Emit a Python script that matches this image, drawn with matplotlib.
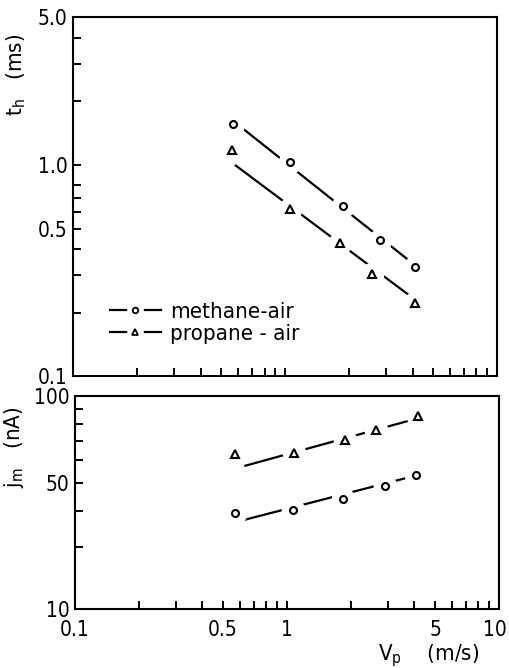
import matplotlib
matplotlib.use("Agg")
import matplotlib.pyplot as plt
import matplotlib.transforms as mtransforms
from matplotlib.lines import Line2D
from matplotlib.ticker import FixedLocator, FixedFormatter, NullFormatter

plt.rcParams['font.family'] = ['DejaVu Sans']
plt.rcParams['font.stretch'] = 'condensed'
plt.rcParams['mathtext.fontset'] = 'custom'
plt.rcParams['mathtext.rm'] = 'DejaVu Sans:stretch=condensed'

# upper panel: t_h (ms) against V_p (m/s)
vp_th_meth = [0.57, 1.06, 1.87, 2.81, 4.11]
th_meth = [1.56, 1.03, 0.64, 0.44, 0.33]
vp_th_prop = [0.56, 1.05, 1.81, 2.57, 4.11]
th_prop = [1.18, 0.62, 0.425, 0.306, 0.223]
# drawn trend lines, start and end
line_th_meth_x = [0.625, 3.82]
line_th_meth_y = [1.50, 0.355]
line_th_prop_x = [0.58, 4.0]
line_th_prop_y = [1.0, 0.235]

# lower panel: j_m (nA) against V_p (m/s)
vp_jm_meth = [0.57, 1.07, 1.84, 2.89, 4.07]
jm_meth = [39.4, 40.3, 44.1, 49.0, 53.3]
vp_jm_prop = [0.57, 1.08, 1.89, 2.62, 4.15]
jm_prop = [63.0, 63.4, 70.5, 76.3, 85.3]
line_jm_meth_x = [0.63, 3.86]
line_jm_meth_y = [37.3, 52.6]
line_jm_prop_x = [0.63, 3.86]
line_jm_prop_y = [57.3, 82.6]

x_ticks = [0.2, 0.3, 0.4, 0.5, 0.6, 0.7, 0.8, 0.9, 1, 2, 3, 4, 5, 6, 7, 8, 9]
x_labels = {0.1: "0.1", 0.5: "0.5", 1: "1", 5: "5", 10: "10"}
th_ticks = [0.1, 0.2, 0.3, 0.4, 0.5, 0.6, 0.7, 0.8, 1.0, 2, 3, 4, 5.0]
th_labels = {0.1: "0.1", 0.5: "0.5", 1.0: "1.0", 5.0: "5.0"}
jm_bottom = 18.4
jm_ticks = [jm_bottom, 30, 40, 50, 60, 70, 80, 90, 100]
jm_labels = {jm_bottom: "10", 50: "50", 100: "100"}

FS = 15

fig = plt.figure(figsize=(5.09, 6.68), dpi=100)
ax1 = fig.add_axes([0.144, 0.437, 0.832, 0.537])
ax2 = fig.add_axes([0.147, 0.089, 0.833, 0.318])


def series(ax, x, y, lx, ly, marker, ms):
    ax.plot(lx, ly, color='black', lw=1.6, zorder=1, solid_capstyle='butt')
    # white patch behind each marker breaks the line, as in the drawing
    ax.plot(x, y, ls='none', marker='o', ms=17, mfc='white', mec='none', zorder=2)
    ax.plot(x, y, ls='none', marker=marker, ms=ms, mfc='white', mec='black', mew=1.5, zorder=3)


series(ax1, vp_th_meth, th_meth, line_th_meth_x, line_th_meth_y, 'o', 5)
series(ax1, vp_th_prop, th_prop, line_th_prop_x, line_th_prop_y, '^', 6)
series(ax2, vp_jm_meth, jm_meth, line_jm_meth_x, line_jm_meth_y, 'o', 5)
series(ax2, vp_jm_prop, jm_prop, line_jm_prop_x, line_jm_prop_y, '^', 6)

for ax in (ax1, ax2):
    ax.set_xscale('log')
    ax.set_yscale('log')
    ax.set_xlim(0.1, 10)
    ax.xaxis.set_major_locator(FixedLocator(x_ticks))
    ax.xaxis.set_minor_locator(FixedLocator([]))
    for s in ax.spines.values():
        s.set_linewidth(1.5)
    ax.tick_params(direction='in', length=6, width=1.4, labelsize=FS,
                   top=False, right=False)
    ax.tick_params(axis='x', pad=8)
    ax.tick_params(axis='y', pad=4)

ax1.xaxis.set_major_formatter(NullFormatter())
ax1.set_ylim(0.1, 5.0)
ax1.yaxis.set_major_locator(FixedLocator(th_ticks))
ax1.yaxis.set_minor_locator(FixedLocator([]))
ax1.yaxis.set_major_formatter(FixedFormatter([th_labels.get(t, "") for t in th_ticks]))

ax2.xaxis.set_major_locator(FixedLocator(list(x_labels) + x_ticks))
ax2.xaxis.set_major_formatter(FixedFormatter(list(x_labels.values()) + [""] * len(x_ticks)))
ax2.set_ylim(jm_bottom, 100)
ax2.yaxis.set_major_locator(FixedLocator(jm_ticks))
ax2.yaxis.set_minor_locator(FixedLocator([]))
ax2.yaxis.set_major_formatter(FixedFormatter([jm_labels.get(t, "") for t in jm_ticks]))

# keep the "10" at the right edge inside the picture
fig.canvas.draw()
last = ax2.xaxis.get_major_ticks()[len(x_labels) - 1].label1
last.set_transform(last.get_transform() + mtransforms.ScaledTranslation(-4 / 100, 0, fig.dpi_scale_trans))

ax1.set_ylabel(r"t$_\mathrm{h}$   (ms)", fontsize=FS + 1)
ax1.yaxis.set_label_coords(-0.107, 0.84)
ax2.set_ylabel(r"j$_\mathrm{m}$   (nA)", fontsize=FS + 1)
ax2.yaxis.set_label_coords(-0.115, 0.76)
ax2.set_xlabel(r"V$_\mathrm{p}$    (m/s)", fontsize=FS + 1)
ax2.xaxis.set_label_coords(0.835, -0.16)

handles = []
for m, ms in (('o', 4), ('^', 5)):
    ln = Line2D([], [], color='black', lw=1.6)
    halo = Line2D([], [], ls='none', marker='o', ms=12, mfc='white', mec='none')
    mk = Line2D([], [], ls='none', marker=m, ms=ms, mfc='white', mec='black', mew=1.3)
    handles.append((ln, halo, mk))
ax1.legend(handles, ["methane-air", "propane - air"], loc='lower left',
           bbox_to_anchor=(0.065, 0.065), frameon=False, fontsize=FS + 1,
           handlelength=2.3, handletextpad=0.4, labelspacing=0.1, borderaxespad=0)

fig.savefig("out.png", dpi=100)
